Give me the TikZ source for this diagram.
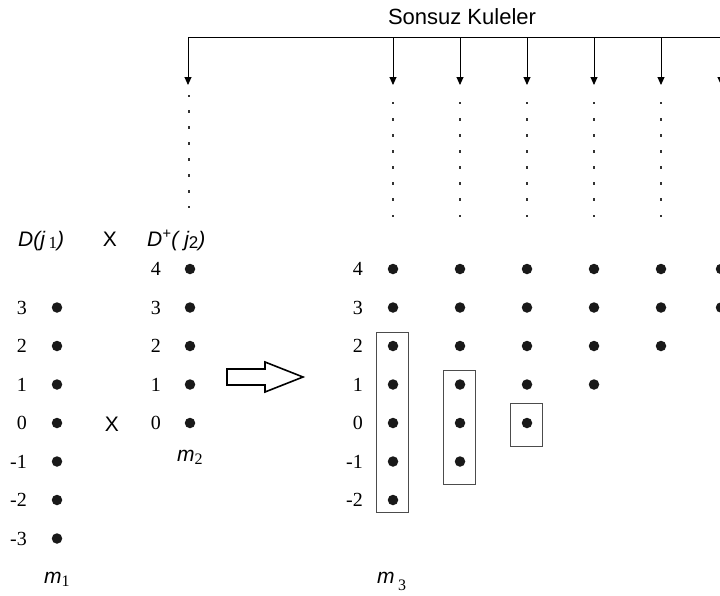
\documentclass[tikz,border=0pt]{standalone}
\usepackage{fontspec}
\setmainfont{Liberation Serif}
\setsansfont{Liberation Sans}
\usetikzlibrary{arrows.meta}
\begin{document}
\begin{tikzpicture}[x=1pt,y=-1pt,
  dot/.style={circle,fill=black!90,inner sep=0pt,minimum size=10.5pt},
  num/.style={anchor=east,inner sep=0pt,font=\rmfamily\fontsize{20}{20}\selectfont},
  lbl/.style={inner sep=0pt,font=\sffamily\fontsize{21}{21}\selectfont},
  tower/.style={line width=0.9pt,-{Triangle[length=8pt,width=7pt]}},
  box/.style={draw=black!70,line width=0.9pt},
  tick/.style={fill=black!80}]
\useasboundingbox (0,0) rectangle (720,595);

% title and top bar
\node[font=\sffamily\fontsize{22}{22}\selectfont,inner sep=0pt] (title) at (462,17) {Sonsuz Kuleler};
\coordinate (tl) at (188,37);
\coordinate (tr) at (722,37);
\draw[line width=0.9pt] (tl) -- (tr);
\draw[tower] (tl) -- (188,85);
\foreach \x [count=\k] in {393,460,527,594,661,721}{
  \coordinate (t\k) at (\x,37);
  \coordinate (b\k) at (\x,85);
  \draw[tower] (t\k) -- (b\k);
  \foreach \j in {0,...,7}{
    \fill[tick] ({\x-1.4},{103+16.14*\j-1.4}) rectangle ++(2.8,2.8);
  }
}
\foreach \j in {0,...,7}{
  \fill[tick] (187.6,{96+15.86*\j-1.4}) rectangle ++(2.8,2.8);
}

% headings
\node[lbl,anchor=base west] (dj1) at (18,246) {\itshape D(j\,\raisebox{-2pt}{\rmfamily\upshape\fontsize{17}{17}\selectfont 1})};
\node[lbl,anchor=base] (x1) at (110,246) {X};
\node[lbl,anchor=base west] (dj2) at (147,246) {\itshape D\textsuperscript{+}( j\raisebox{-2pt}{\upshape\fontsize{17}{17}\selectfont 2})};

% left column m1
\foreach \m [count=\i] in {3,2,1,0,-1,-2,-3}{
  \node[num] (ln\i) at (27,{423-38.5*\m}) {\m};
  \node[dot] (ld\i) at (57,{423-38.5*\m}) {};
}
\node[lbl,anchor=base west] (m1) at (44,583) {\itshape m\raisebox{-3pt}{\rmfamily\upshape\fontsize{16}{16}\selectfont 1}};

% middle column m2
\foreach \m [count=\i] in {4,3,2,1,0}{
  \node[num] (mn\i) at (161,{423-38.5*\m}) {\m};
  \node[dot] (md\i) at (190,{423-38.5*\m}) {};
}
\node[lbl] (x2) at (112,424) {X};
\node[lbl,anchor=base west] (m2) at (177,461) {\itshape m\raisebox{-3pt}{\rmfamily\upshape\fontsize{16}{16}\selectfont 2}};

% big hollow arrow
\draw[line width=1.6pt,line join=miter] (227,369) -- (265,369) -- (265,362) -- (303,377) -- (265,392) -- (265,385) -- (227,385) -- cycle;

% right grid m3
\foreach \m [count=\i] in {4,3,2,1,0,-1,-2}{
  \node[num] (rn\i) at (363,{423-38.5*\m}) {\m};
}
\foreach \x [count=\k] in {393,460,527,594,661,721}{
  \pgfmathtruncatemacro{\low}{\k-3}
  \foreach \m in {4,...,\low}{
    \node[dot] (g\k-\m) at (\x,{423-38.5*\m}) {};
  }
}
\draw[box] (376,332) rectangle (408,512);
\draw[box] (443,370) rectangle (475,484);
\draw[box] (510,403) rectangle (542,446);
\node[lbl,anchor=base west] (m3) at (377,583) {\itshape m\,\raisebox{-7pt}{\rmfamily\upshape\fontsize{16}{16}\selectfont 3}};
\end{tikzpicture}
\end{document}
